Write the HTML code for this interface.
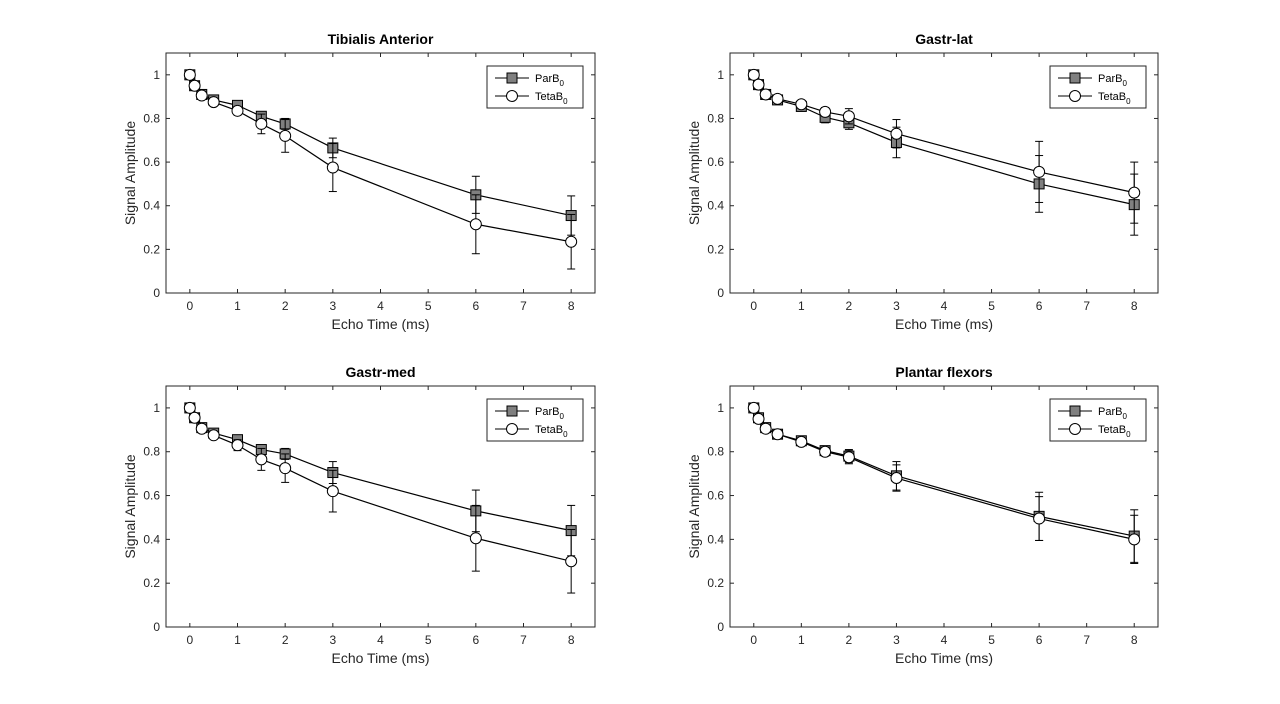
<!DOCTYPE html>
<html><head><meta charset="utf-8"><style>
body{margin:0;background:#fff;}
svg{display:block;font-family:"Liberation Sans",Arial,sans-serif;}
</style></head><body>
<svg id="fig" width="1280" height="704" viewBox="0 0 1280 704"></svg>
<script>
const echoTimes=[0,0.1,0.25,0.5,1,1.5,2,3,6,8];
const xTicks=[0,1,2,3,4,5,6,7,8];
const yTicks=[0,0.2,0.4,0.6,0.8,1];
const yTickLabels=["0","0.2","0.4","0.6","0.8","1"];
const titles=["Tibialis Anterior","Gastr-lat","Gastr-med","Plantar flexors"];
const parTA=[1,0.95,0.91,0.885,0.86,0.81,0.775,0.665,0.45,0.355];
const parTAErr=[0,0.01,0.01,0.01,0.015,0.02,0.025,0.045,0.085,0.09];
const tetaTA=[1,0.95,0.905,0.875,0.835,0.775,0.72,0.575,0.315,0.235];
const tetaTAErr=[0,0.01,0.01,0.015,0.02,0.045,0.075,0.11,0.135,0.125];
const parGL=[1,0.955,0.91,0.885,0.855,0.805,0.78,0.69,0.5,0.405];
const parGLErr=[0,0.01,0.01,0.01,0.015,0.025,0.03,0.07,0.13,0.14];
const tetaGL=[1,0.955,0.91,0.89,0.865,0.83,0.81,0.73,0.555,0.46];
const tetaGLErr=[0,0.01,0.01,0.01,0.015,0.02,0.035,0.065,0.14,0.14];
const parGM=[1,0.955,0.91,0.885,0.855,0.81,0.79,0.705,0.53,0.44];
const parGMErr=[0,0.01,0.01,0.01,0.015,0.015,0.025,0.05,0.095,0.115];
const tetaGM=[1,0.955,0.905,0.875,0.83,0.765,0.725,0.62,0.405,0.3];
const tetaGMErr=[0,0.01,0.01,0.015,0.025,0.05,0.065,0.095,0.15,0.145];
const parPF=[1,0.955,0.91,0.88,0.85,0.805,0.78,0.69,0.505,0.415];
const parPFErr=[0,0.01,0.01,0.01,0.015,0.02,0.03,0.065,0.11,0.12];
const tetaPF=[1,0.95,0.905,0.88,0.845,0.8,0.775,0.68,0.495,0.4];
const tetaPFErr=[0,0.01,0.01,0.01,0.015,0.02,0.03,0.06,0.1,0.11];
const parSeries=[parTA,parGL,parGM,parPF];
const parErrs=[parTAErr,parGLErr,parGMErr,parPFErr];
const tetaSeries=[tetaTA,tetaGL,tetaGM,tetaPF];
const tetaErrs=[tetaTAErr,tetaGLErr,tetaGMErr,tetaPFErr];

const NS="http://www.w3.org/2000/svg";
const svg=document.getElementById('fig');
function mk(tag,attrs,parent,text){const e=document.createElementNS(NS,tag);for(const k in attrs)e.setAttribute(k,attrs[k]);if(text!==undefined)e.textContent=text;(parent||svg).appendChild(e);return e;}
const boxes=[{l:166,r:595,t:53,b:293},{l:730,r:1158,t:53,b:293},{l:166,r:595,t:386,b:627},{l:730,r:1158,t:386,b:627}];
boxes.forEach((B,i)=>{
  const g=mk('g',{});
  
  
  const w=B.r-B.l,h=B.b-B.t;
  const sx=v=>B.l+(v+0.5)/9*w;
  const sy=v=>B.b-v/1.1*h;
  mk('rect',{x:B.l,y:B.t,width:w,height:h,fill:'#fff',stroke:'#262626','stroke-width':1},g);
  xTicks.forEach(t=>{const x=sx(t);
    mk('line',{x1:x,x2:x,y1:B.b,y2:B.b-4,stroke:'#262626'},g);
    mk('line',{x1:x,x2:x,y1:B.t,y2:B.t+4,stroke:'#262626'},g);
    const tl=mk('text',{x:x,y:B.b+17,'text-anchor':'middle','font-size':12,fill:'#262626'},g,String(t));
    
    
  });
  yTicks.forEach((t,j)=>{const y=sy(t);
    mk('line',{x1:B.l,x2:B.l+4,y1:y,y2:y,stroke:'#262626'},g);
    mk('line',{x1:B.r,x2:B.r-4,y1:y,y2:y,stroke:'#262626'},g);
    const tl=mk('text',{x:B.l-6,y:y+4,'text-anchor':'end','font-size':12,fill:'#262626'},g,yTickLabels[j]);
    
    
  });
  const tt=mk('text',{x:(B.l+B.r)/2,y:B.t-9,'text-anchor':'middle','font-size':14,'font-weight':'bold',fill:'#000'},g,titles[i]);
  
  
  const xl=mk('text',{x:(B.l+B.r)/2,y:B.b+36,'text-anchor':'middle','font-size':14,fill:'#262626'},g,'Echo Time (ms)');
  
  
  const yc=(B.t+B.b)/2;
  const yl=mk('text',{x:B.l-31,y:yc,'text-anchor':'middle','font-size':14,fill:'#262626',transform:`rotate(-90 ${B.l-31} ${yc})`},g,'Signal Amplitude');
  
  
  function series(vals,errs,kind){
    const sg=mk('g',{},g);
    
    
    mk('polyline',{points:vals.map((v,k)=>sx(echoTimes[k])+','+sy(v)).join(' '),fill:'none',stroke:'#000','stroke-width':1.2},sg);
    vals.forEach((v,k)=>{const x=sx(echoTimes[k]);const e=errs[k];
      if(e>0){mk('line',{x1:x,x2:x,y1:sy(v-e),y2:sy(v+e),stroke:'#000'},sg);
        mk('line',{x1:x-4,x2:x+4,y1:sy(v-e),y2:sy(v-e),stroke:'#000'},sg);
        mk('line',{x1:x-4,x2:x+4,y1:sy(v+e),y2:sy(v+e),stroke:'#000'},sg);}
    });
    vals.forEach((v,k)=>{const x=sx(echoTimes[k]),y=sy(v);
      let m;
      if(kind==='sq')m=mk('rect',{x:x-5,y:y-5,width:10,height:10,fill:'#808080',stroke:'#000'},sg);
      else m=mk('circle',{cx:x,cy:y,r:5.5,fill:'#fff',stroke:'#000'},sg);
      
      
    });
  }
  series(parSeries[i],parErrs[i],'sq');
  series(tetaSeries[i],tetaErrs[i],'ci');
  const lg=mk('g',{},g);
  
  
  const lx=B.r-108,ly=B.t+13;
  mk('rect',{x:lx,y:ly,width:96,height:42,fill:'#fff',stroke:'#262626'},lg);
  mk('line',{x1:lx+8,x2:lx+42,y1:ly+12,y2:ly+12,stroke:'#000'},lg);
  mk('rect',{x:lx+20,y:ly+7,width:10,height:10,fill:'#808080',stroke:'#000'},lg);
  const t1=mk('text',{x:lx+48,y:ly+16,'font-size':11,fill:'#000'},lg);
  t1.innerHTML='ParB<tspan dy="4" font-size="8">0</tspan>';
  mk('line',{x1:lx+8,x2:lx+42,y1:ly+30,y2:ly+30,stroke:'#000'},lg);
  mk('circle',{cx:lx+25,cy:ly+30,r:5.5,fill:'#fff',stroke:'#000'},lg);
  const t2=mk('text',{x:lx+48,y:ly+34,'font-size':11,fill:'#000'},lg);
  t2.innerHTML='TetaB<tspan dy="4" font-size="8">0</tspan>';
});
</script>
</body></html>
